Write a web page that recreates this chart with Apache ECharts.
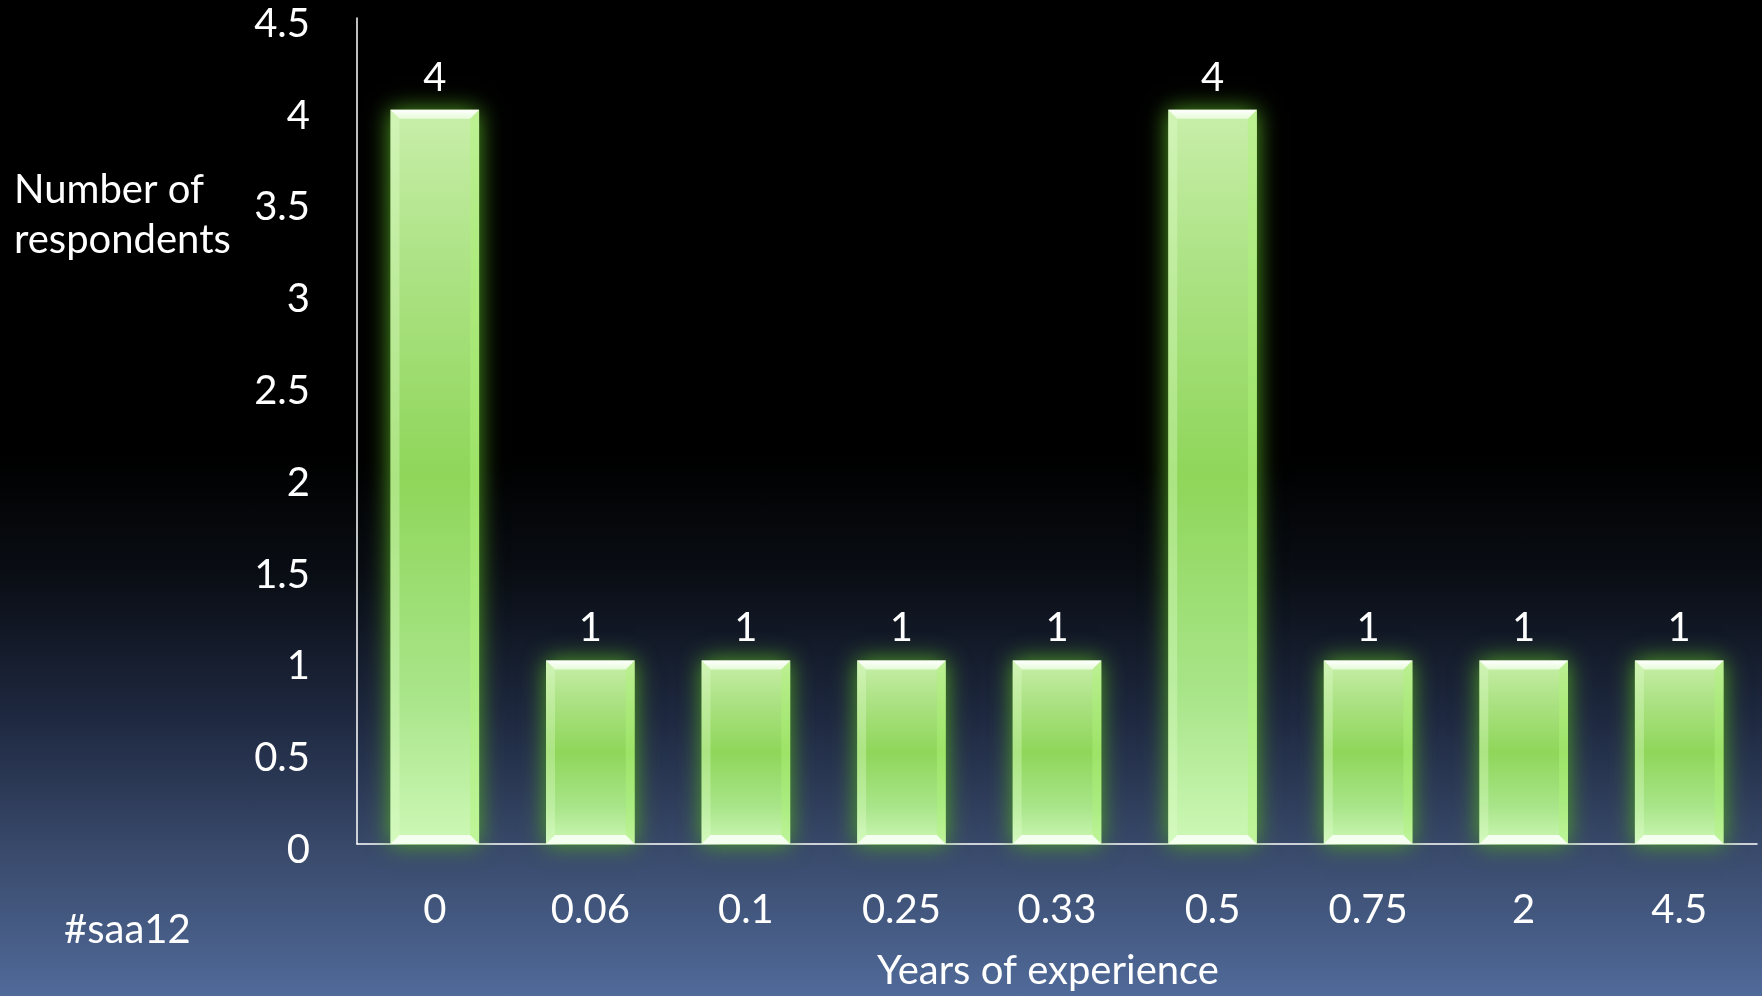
<!DOCTYPE html>
<html>
<head>
<meta charset="utf-8">
<script src="https://cdn.jsdelivr.net/npm/echarts@6/dist/echarts.min.js"></script>
<style>
  html, body { margin: 0; padding: 0; width: 1762px; height: 996px; overflow: hidden; }
  #chart { width: 1762px; height: 996px;
    background: linear-gradient(to bottom, #000000 0%, #000000 46%, #0a0e15 58%, #1e2840 72%, #3a4b6d 86%, #506a99 100%); }
</style>
</head>
<body>
<div id="chart"></div>
<script>
const categories = ['0', '0.06', '0.1', '0.25', '0.33', '0.5', '0.75', '2', '4.5'];
const respondents = [4, 1, 1, 1, 1, 4, 1, 1, 1];
const yMin = 0, yMax = 4.5, yStep = 0.5;
const xTitle = 'Years of experience';
const yTitle = 'Number of\nrespondents';
const tagText = '#saa12';

const FONT = 'Lato, "Open Sans", sans-serif';
const chart = echarts.init(document.getElementById('chart'), null, { renderer: 'canvas' });

function renderItem(params, api) {
  const idx = api.value(0), v = api.value(1);
  const top = api.coord([idx, v]);
  const base = api.coord([idx, 0]);
  const w = api.size([1, 0])[0] * 0.57;
  const cx = top[0];
  const x0 = cx - w / 2, x1 = cx + w / 2, yt = top[1], yb = base[1];
  const b = 9;
  const fillGrad = new echarts.graphic.LinearGradient(0, 0, 0, 1, [
    { offset: 0, color: '#c9efaa' },
    { offset: 0.2, color: '#aee387' },
    { offset: 0.5, color: '#8fd65a' },
    { offset: 0.8, color: '#a9e58a' },
    { offset: 1, color: '#cdf8b6' }
  ]);
  return {
    type: 'group',
    children: [
      { type: 'rect', shape: { x: x0, y: yt, width: w, height: yb - yt },
        style: { fill: fillGrad, shadowBlur: 22, shadowColor: 'rgba(85,170,35,0.95)' } },
      { type: 'polygon', shape: { points: [[x0, yt], [x0 + b, yt + b], [x0 + b, yb - b], [x0, yb]] },
        style: { fill: 'rgba(225,255,205,0.35)' } },
      { type: 'polygon', shape: { points: [[x1, yt], [x1 - b, yt + b], [x1 - b, yb - b], [x1, yb]] },
        style: { fill: 'rgba(175,245,120,0.45)' } },
      { type: 'polygon', shape: { points: [[x0, yt], [x1, yt], [x1 - b, yt + b], [x0 + b, yt + b]] },
        style: { fill: new echarts.graphic.LinearGradient(0, 0, 0, 1, [
          { offset: 0, color: '#ffffff' }, { offset: 1, color: '#e6fbd8' }]) } },
      { type: 'polygon', shape: { points: [[x0, yb], [x1, yb], [x1 - b, yb - b], [x0 + b, yb - b]] },
        style: { fill: '#f4fff0' } },
      { type: 'text', style: { text: String(v), x: cx, y: yt - 12, align: 'center', verticalAlign: 'bottom',
        fill: '#ffffff', fontSize: 40, fontFamily: FONT } }
    ]
  };
}

const option = {
  animation: false,
  backgroundColor: 'transparent',
  grid: { left: 357, right: 5, top: 18, bottom: 151, containLabel: false },
  xAxis: {
    type: 'category',
    data: categories,
    name: xTitle,
    nameLocation: 'middle',
    nameGap: 107,
    nameTextStyle: { color: '#ffffff', fontSize: 40, fontFamily: FONT, padding: [0, 18, 0, 0] },
    axisLine: { show: true, lineStyle: { color: '#ffffff', width: 1.5 } },
    axisTick: { show: false },
    axisLabel: { color: '#ffffff', fontSize: 40, fontFamily: FONT, margin: 46 },
    splitLine: { show: false }
  },
  yAxis: {
    type: 'value',
    min: yMin, max: yMax, interval: yStep,
    axisLine: { show: true, lineStyle: { color: '#ffffff', width: 1.5 } },
    axisTick: { show: false },
    axisLabel: { color: '#ffffff', fontSize: 40, fontFamily: FONT, margin: 47, verticalAlign: 'top', lineHeight: 12 },
    splitLine: { show: false }
  },
  graphic: [
    { type: 'text', left: 14, top: 165, style: { text: yTitle, fill: '#ffffff', fontSize: 40, lineHeight: 50, fontFamily: FONT } },
    { type: 'text', left: 64, top: 910, style: { text: tagText, fill: '#ffffff', fontSize: 40, fontFamily: FONT } }
  ],
  series: [{
    type: 'custom',
    renderItem: renderItem,
    encode: { x: 0, y: 1 },
    data: categories.map((c, i) => [i, respondents[i]]),
    clip: false
  }]
};
chart.setOption(option);
</script>
</body>
</html>
